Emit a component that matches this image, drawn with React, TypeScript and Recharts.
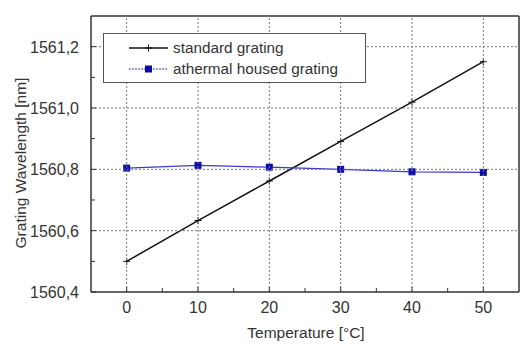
import React from "react";
import { LineChart, Line, XAxis, YAxis, Legend } from "recharts";

const temperatures = [0, 10, 20, 30, 40, 50];
const standardGrating = [1560.5, 1560.633, 1560.762, 1560.891, 1561.019, 1561.151];
const athermalGrating = [1560.804, 1560.813, 1560.807, 1560.8, 1560.792, 1560.79];

const xTicks = [0, 5, 10, 15, 20, 25, 30, 35, 40, 45, 50];
const xMajor = [0, 10, 20, 30, 40, 50];
const yTicks = [1560.4, 1560.5, 1560.6, 1560.7, 1560.8, 1560.9, 1561.0, 1561.1, 1561.2];
const yMajor = [1560.4, 1560.6, 1560.8, 1561.0, 1561.2];
const xDomain = [-5, 55];
const yDomain = [1560.4, 1561.3];

const seriesNames = ["standard grating", "athermal housed grating"];

const data = temperatures.map((t, i) => ({
  t,
  standard: standardGrating[i],
  athermal: athermalGrating[i],
}));

const CHART_W = 532;
const CHART_H = 350;
const MARGIN = { top: 15, right: 12, bottom: 0, left: 0 };
const Y_AXIS_W = 91;
const X_AXIS_H = 58;
const PLOT_W = CHART_W - MARGIN.left - MARGIN.right - Y_AXIS_W - 1;
const PLOT_H = CHART_H - MARGIN.top - MARGIN.bottom - X_AXIS_H - 1;

const FONT = "'Liberation Sans', Arial, sans-serif";
const TEXT = "#333";
const AXIS = "#333";
const GRID = "#777";
const BLACK = "#111";
const BLUE_LINE = "#3a3acc";
const BLUE_MARK = "#0c0ca8";

const isMajor = (v: number, arr: number[]) => arr.some((m) => Math.abs(m - v) < 1e-6);

const YTick = (props: any) => {
  const { x, y, payload } = props;
  const major = isMajor(payload.value, yMajor);
  const isBottom = Math.abs(payload.value - yDomain[0]) < 1e-6;
  return (
    <g>
      {major && !isBottom && (
        <line x1={x} x2={x + PLOT_W} y1={y} y2={y} stroke={GRID} strokeWidth={1} strokeDasharray="2 2" />
      )}
      <line x1={x} x2={x + (major ? 5 : 4)} y1={y} y2={y} stroke={AXIS} strokeWidth={1} />
      {major && (
        <text x={x - 12} y={y} dy={6} textAnchor="end" fontSize={16} fontFamily={FONT} fill={TEXT}>
          {payload.value.toFixed(1).replace(".", ",")}
        </text>
      )}
    </g>
  );
};

const XTick = (props: any) => {
  const { x, y, payload } = props;
  const major = isMajor(payload.value, xMajor);
  return (
    <g>
      {major && (
        <line x1={x} x2={x} y1={y} y2={y - PLOT_H} stroke={GRID} strokeWidth={1} strokeDasharray="2 2" />
      )}
      <line x1={x} x2={x} y1={y} y2={y - (major ? 5 : 4)} stroke={AXIS} strokeWidth={1} />
      {major && (
        <text x={x} y={y} dy={21} textAnchor="middle" fontSize={16} fontFamily={FONT} fill={TEXT}>
          {payload.value}
        </text>
      )}
    </g>
  );
};

const PlusDot = (props: any) => {
  const { cx, cy } = props;
  if (cx == null || cy == null) return null;
  return (
    <g>
      <line x1={cx - 3.5} x2={cx + 3.5} y1={cy} y2={cy} stroke={BLACK} strokeWidth={1} />
      <line x1={cx} x2={cx} y1={cy - 3.5} y2={cy + 3.5} stroke={BLACK} strokeWidth={1} />
    </g>
  );
};

const SquareDot = (props: any) => {
  const { cx, cy } = props;
  if (cx == null || cy == null) return null;
  return <rect x={cx - 3.5} y={cy - 3.5} width={7} height={7} fill={BLUE_MARK} />;
};

const LegendBox = () => (
  <svg width={263} height={50} style={{ display: "block" }}>
    <rect x={0.5} y={0.5} width={262} height={49} fill="#fff" stroke="#555" strokeWidth={1} />
    <line x1={26} x2={65} y1={15} y2={15} stroke={BLACK} strokeWidth={1.5} />
    <line x1={45.5} x2={45.5} y1={11.5} y2={18.5} stroke={BLACK} strokeWidth={1} />
    <line x1={42} x2={49} y1={15} y2={15} stroke={BLACK} strokeWidth={1} />
    <text x={70} y={20} fontSize={15.3} fontFamily={FONT} fill={TEXT}>
      {seriesNames[0]}
    </text>
    <line x1={26} x2={65} y1={36} y2={36} stroke={BLUE_LINE} strokeWidth={1.2} strokeDasharray="2 1" />
    <rect x={42} y={32.5} width={7} height={7} fill={BLUE_MARK} />
    <text x={70} y={41} fontSize={15.3} fontFamily={FONT} fill={TEXT}>
      {seriesNames[1]}
    </text>
  </svg>
);

const YTitle = () => (
  <text
    x={26}
    y={163}
    transform="rotate(-90 26 163)"
    textAnchor="middle"
    fontSize={15.5}
    fontFamily={FONT}
    fill={TEXT}
  >
    Grating Wavelength [nm]
  </text>
);

const XTitle = () => (
  <text x={306} y={338} textAnchor="middle" fontSize={15.5} fontFamily={FONT} fill={TEXT}>
    Temperature [°C]
  </text>
);

export default function App() {
  return (
    <div style={{ position: "absolute", left: 0, top: 0, width: CHART_W, height: CHART_H, background: "#fff" }}>
      <LineChart width={CHART_W} height={CHART_H} data={data} margin={MARGIN}>
        <XAxis
          dataKey="t"
          type="number"
          domain={xDomain}
          ticks={xTicks}
          tick={<XTick />}
          tickSize={0}
          tickMargin={0}
          tickLine={false}
          axisLine={{ stroke: AXIS, strokeWidth: 1.5 }}
          height={X_AXIS_H}
          interval={0}
          label={{ content: <XTitle /> }}
        />
        <YAxis
          type="number"
          domain={yDomain}
          ticks={yTicks}
          tick={<YTick />}
          tickSize={0}
          tickMargin={0}
          tickLine={false}
          axisLine={{ stroke: AXIS, strokeWidth: 1.5 }}
          width={Y_AXIS_W}
          interval={0}
          allowDataOverflow
          label={{ content: <YTitle /> }}
        />
        <XAxis
          xAxisId="top"
          orientation="top"
          type="number"
          domain={xDomain}
          ticks={xMajor}
          height={1}
          tick={false}
          tickLine={false}
          axisLine={{ stroke: AXIS, strokeWidth: 1.5 }}
        />
        <YAxis
          yAxisId="right"
          orientation="right"
          type="number"
          domain={yDomain}
          ticks={yMajor}
          width={1}
          tick={false}
          tickLine={false}
          axisLine={{ stroke: AXIS, strokeWidth: 1.5 }}
        />
        <Legend
          layout="vertical"
          align="center"
          verticalAlign="middle"
          wrapperStyle={{ left: 103, top: 33, width: 263, height: 50 }}
          content={() => <LegendBox />}
        />
        <Line
          dataKey="standard"
          name={seriesNames[0]}
          stroke={BLACK}
          strokeWidth={1.5}
          dot={<PlusDot />}
          activeDot={false}
          isAnimationActive={false}
        />
        <Line
          dataKey="athermal"
          name={seriesNames[1]}
          stroke={BLUE_LINE}
          strokeWidth={1.2}
          dot={<SquareDot />}
          activeDot={false}
          isAnimationActive={false}
        />
      </LineChart>
    </div>
  );
}
